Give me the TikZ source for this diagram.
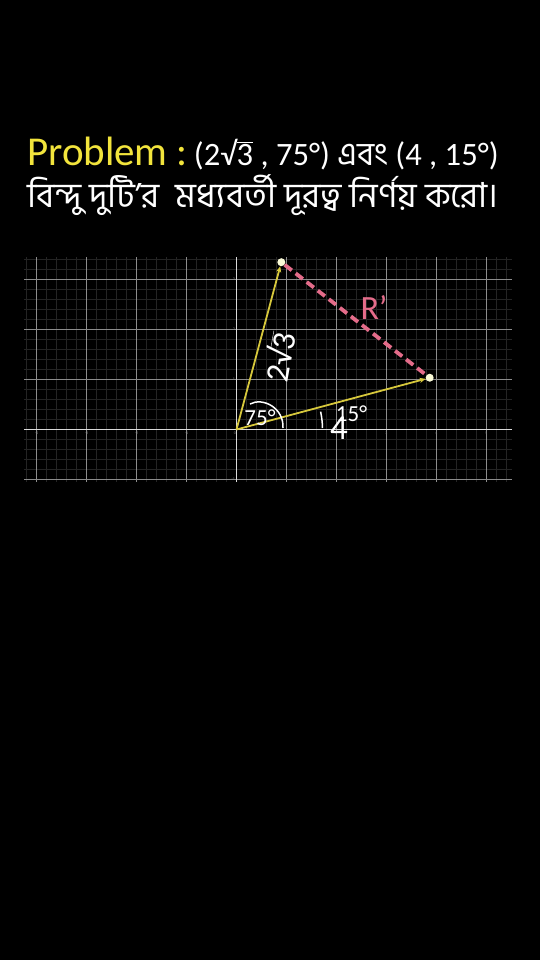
\documentclass[tikz,border=0pt]{standalone}
\usepackage{fontspec}
\usepackage{graphicx}
\setmainfont{Carlito}
\newfontfamily\bn[Script=Bengali]{Hind Siliguri}
\usetikzlibrary{arrows.meta}
\definecolor{ttlyellow}{RGB}{242,228,60}
\definecolor{vecyellow}{RGB}{215,200,60}
\definecolor{rpink}{RGB}{228,108,138}
\definecolor{majgrid}{RGB}{140,140,140}
\definecolor{mingrid}{RGB}{36,36,36}
\definecolor{dotcol}{RGB}{250,250,215}
\newcommand\ovl[1]{$\overline{\mbox{#1}}$}
\begin{document}
\begin{tikzpicture}[x=1pt,y=-1pt,
  vec/.style={vecyellow, line width=1.8pt, -{Stealth[length=6pt,width=5pt]}},
  ptdot/.style={circle, fill=dotcol, inner sep=0pt, minimum size=8pt},
  rdash/.style={rpink, line width=3.8pt, dash pattern=on 9pt off 5pt},
  ticklab/.style={text=gray, font=\fontsize{4}{4}\selectfont, inner sep=0.5pt},
  lbl/.style={text=white, inner sep=0pt},
  anglearc/.style={white, line width=1.5pt}]
\fill[black] (0,0) rectangle (540,960);
\useasboundingbox (0,0) rectangle (540,960);
% title
\node[anchor=base west, inner sep=0pt] (t1) at (27,165)
  {{\color{ttlyellow}\fontsize{41}{44}\selectfont Problem :}\hspace{6pt}{\color{white}\fontsize{32.6}{34}\selectfont (2√\ovl{3} , 75°) {\bn এবং} (4 , 15°)}};
\node[anchor=base west, inner sep=0pt, text=white] (t2) at (27,207)
  {\bn\fontsize{34.5}{36}\selectfont বিন্দু দুটি’র\ \ মধ্যবর্তী দূরত্ব নির্ণয় করো।};
\begin{scope}[shift={(236.5,429.5)}, x=50pt, y=50pt]
  \draw[mingrid, line width=0.6pt] (-4.25,-1.05) grid[step=0.2] (5.5,3.45);
  \draw[majgrid, line width=0.9pt] (-4.25,-1.05) grid[step=1] (5.5,3.45);
  \draw[white!85!black, line width=0.9pt] (-4.25,0) -- (5.5,0);
  \draw[white!85!black, line width=0.9pt] (0,-1.05) -- (0,3.45);
  \foreach \i in {-4,-3,-2,-1,1,2,3,4,5}
    \node[ticklab, anchor=north] (xt\i) at (\i,-0.03) {\i};
  \node[ticklab, anchor=north east] (xt0) at (0,-0.03) {0};
  \foreach \j in {-1,1,2,3}
    \node[ticklab, anchor=east] (yt\j) at (-0.02,\j) {\j};
  \coordinate (O) at (0,0);
  \node[ptdot] (A) at (75:3.4641) {};
  \node[ptdot] (B) at (15:4) {};
  \draw[rdash] (A) -- (B);
  \draw[vec] (O) -- (A);
  \draw[vec] (O) -- (B);
  \draw[anglearc] (12:1.72) arc[start angle=12, end angle=1, radius=1.72];
  \node[text=rpink, font=\fontsize{34}{36}\selectfont] (R) at (2.75,2.43) {R’};
  \node[lbl, rotate=80, font=\fontsize{33}{35}\selectfont] (l1) at (0.85,1.45) {2√\ovl{3}};
  \node[lbl, font=\fontsize{23}{25}\selectfont] (l2) at (0.47,0.23) {75°};
  \node[lbl, font=\fontsize{23}{25}\selectfont] (l3) at (2.3,0.31) {15°};
  \node[lbl, font=\fontsize{35}{37}\selectfont] (l4) at (2.05,0.02) {4};
\end{scope}
% hand-drawn 75 degree arc
\draw[anglearc] (250,404) .. controls (263,397) and (284,408) .. (283,428);
\end{tikzpicture}
\end{document}
